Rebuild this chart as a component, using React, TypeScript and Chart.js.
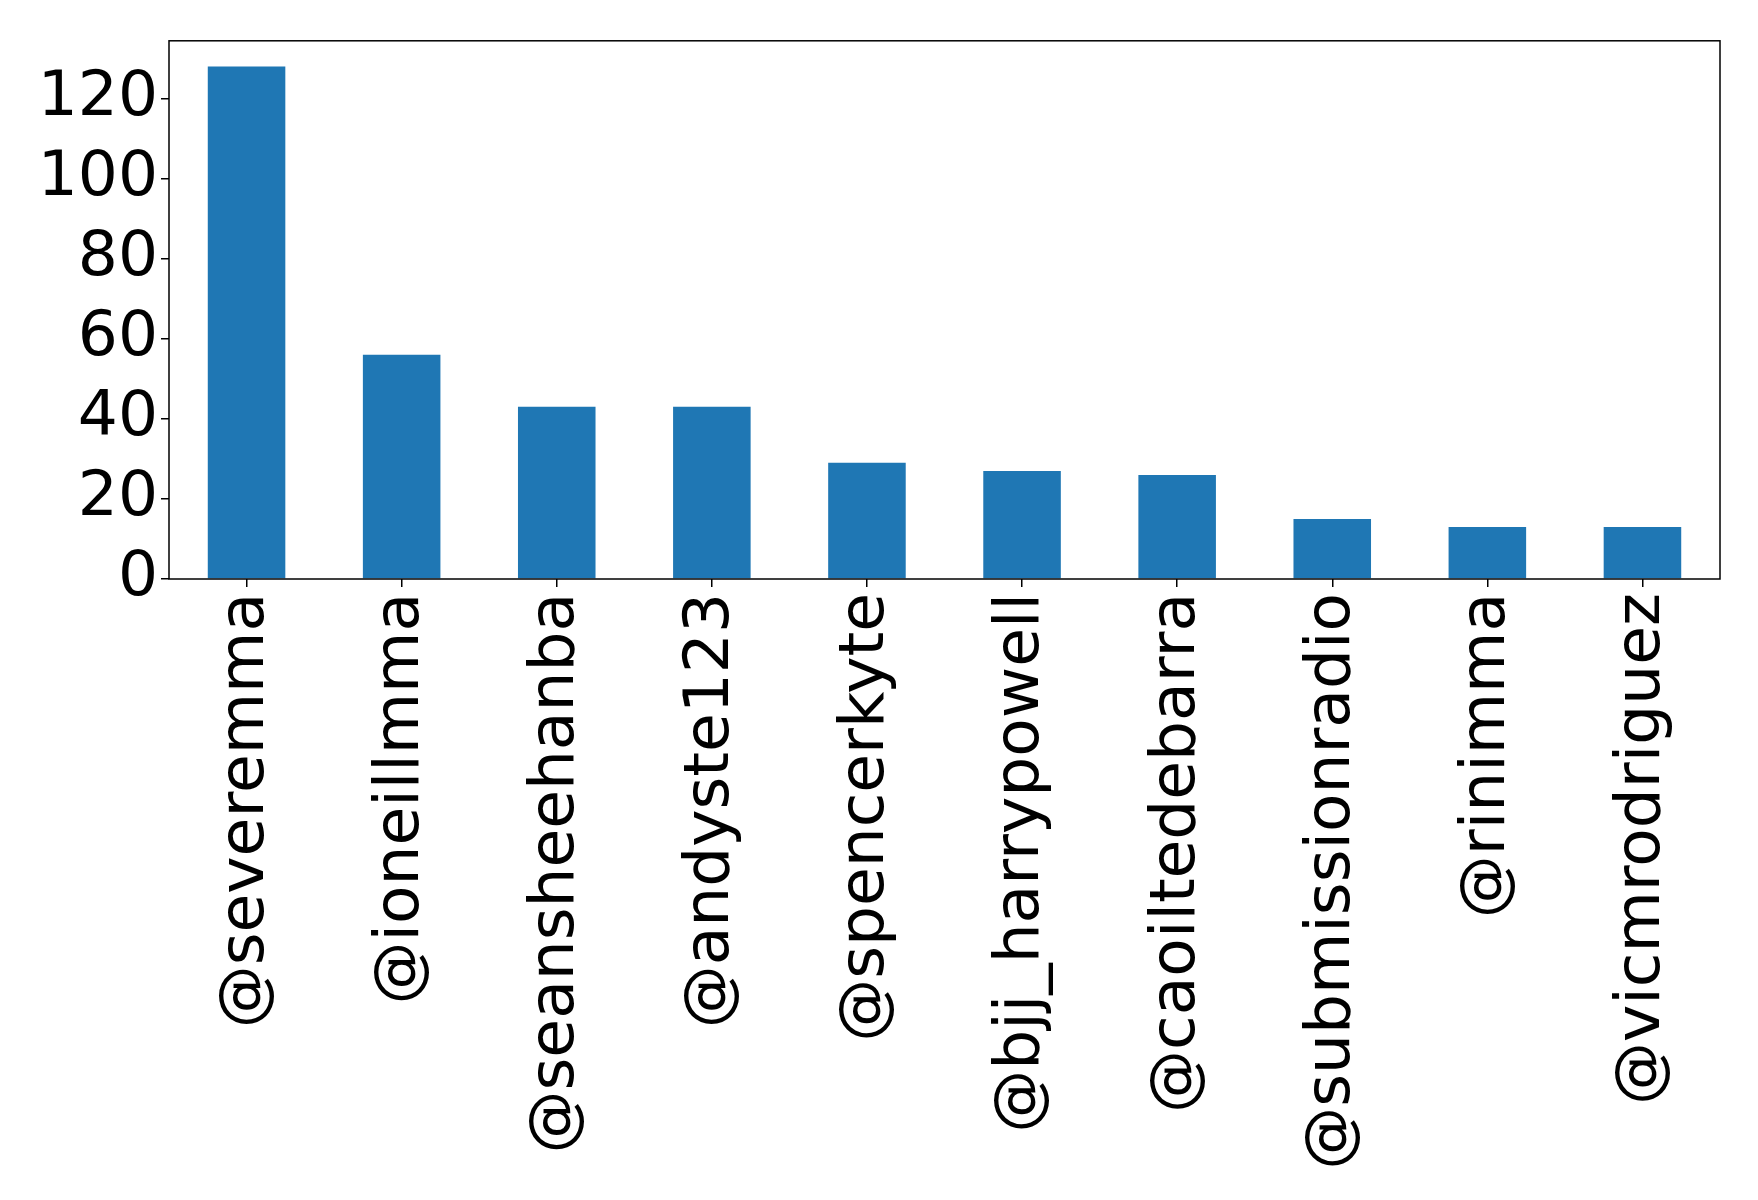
import React, { useEffect, useRef } from "react";
import { Chart, registerables } from "chart.js";

Chart.register(...registerables);

const categories = [
  "@severemma",
  "@ioneillmma",
  "@seansheehanba",
  "@andyste123",
  "@spencerkyte",
  "@bjj_harrypowell",
  "@caoiltedebarra",
  "@submissionradio",
  "@rinimma",
  "@vicmrodriguez",
];
const values = [128, 56, 43, 43, 29, 27, 26, 15, 13, 13];
const yTicks = [0, 20, 40, 60, 80, 100, 120];

const W = 1758;
const H = 1200;
const LEFT = 169;
const RIGHT = 1720;
const TOP = 38;
const BOTTOM = 579;

const frame = {
  id: "frame",
  afterDraw(chart: any) {
    const { ctx, chartArea } = chart;
    ctx.save();
    ctx.strokeStyle = "#000";
    ctx.lineWidth = 1.5;
    ctx.strokeRect(chartArea.left, chartArea.top, chartArea.right - chartArea.left, chartArea.bottom - chartArea.top);
    ctx.restore();
  },
};

export default function App() {
  const ref = useRef<HTMLCanvasElement>(null);
  useEffect(() => {
    document.body.style.margin = "0";
    const font = { family: "DejaVu Sans", size: 63 };
    const chart = new Chart(ref.current!, {
      type: "bar",
      data: {
        labels: categories,
        datasets: [
          {
            data: values,
            backgroundColor: "#1f77b4",
            barPercentage: 0.5,
            categoryPercentage: 1,
          },
        ],
      },
      options: {
        responsive: false,
        animation: false,
        layout: { padding: { top: TOP, right: W - RIGHT, left: 0, bottom: 0 } },
        plugins: { legend: { display: false }, tooltip: { enabled: false } },
        scales: {
          x: {
            offset: true,
            grid: { display: true, offset: false, drawOnChartArea: false, tickLength: 8, tickColor: "#000", lineWidth: 1.5 },
            border: { display: false },
            ticks: { color: "#000", font, minRotation: 90, maxRotation: 90, autoSkip: false, padding: 6 },
            afterFit(scale: any) {
              scale.height = H - BOTTOM;
            },
          },
          y: {
            min: 0,
            max: 134.4,
            grid: { display: true, drawOnChartArea: false, tickLength: 8, tickColor: "#000", lineWidth: 1.5 },
            border: { display: false },
            afterBuildTicks(scale: any) {
              scale.ticks = yTicks.map((v) => ({ value: v }));
            },
            ticks: { color: "#000", font, padding: 3 },
            afterFit(scale: any) {
              scale.width = LEFT;
            },
          },
        },
      },
      plugins: [frame],
    });
    return () => chart.destroy();
  }, []);
  return <canvas ref={ref} width={W} height={H} style={{ display: "block" }} />;
}
